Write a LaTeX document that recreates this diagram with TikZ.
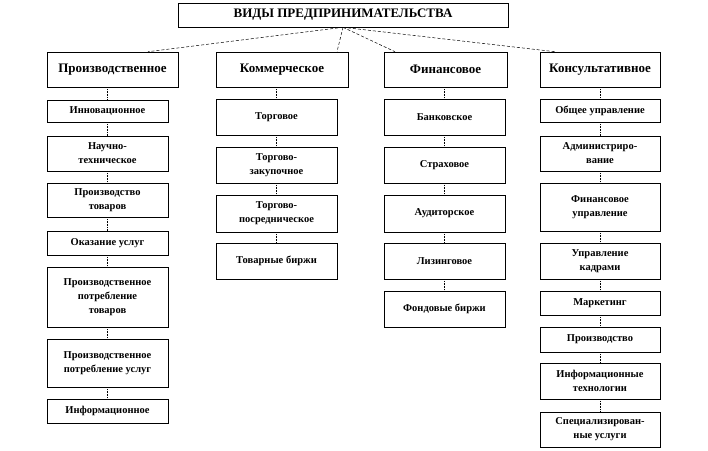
\documentclass[tikz,border=0pt]{standalone}
\usepackage{fontspec}
\setmainfont{Liberation Serif}
\usetikzlibrary{calc}
\tikzset{kind/.style={draw,line width=.6pt,inner sep=1pt,align=center,
           font=\bfseries\fontsize{13}{15}\selectfont},
         head/.style={kind,minimum height=35pt},
         sub/.style={kind,minimum width=121pt,
           font=\bfseries\fontsize{10.5}{14}\selectfont},
         fan/.style={densely dashed,line width=.5pt},
         link/.style={densely dotted,line width=.6pt}}

\begin{document}
\begin{tikzpicture}[x=1pt,y=-1pt]
  \useasboundingbox (0,0) rectangle (708,450);
  \node[kind,minimum width=330pt,minimum height=24pt] (top) at (343,15) {ВИДЫ ПРЕДПРИНИМАТЕЛЬСТВА};
  \node[head,minimum width=131pt] (prod) at (112.5,69.5) {Производственное};
  \node[head,minimum width=132pt] (comm) at (282,69.5) {Коммерческое};
  \node[head,minimum width=123pt] (fin) at (445.5,69.5) {Финансовое};
  \node[head,minimum width=120pt] (cons) at (600,69.5) {Консультативное};
  \draw[fan] (top.south) -- ($(prod.north)+(35.5,0)$);
  \draw[fan] (top.south) -- ($(comm.north)+(55,0)$);
  \draw[fan] (top.south) -- ($(fin.north)+(-50.5,0)$);
  \draw[fan] (top.south) -- ($(cons.north)+(-45,0)$);
  % production
  \node[sub,minimum height=22pt] (p1) at (107.5,111) {Инновационное};
  \node[sub,minimum height=35pt] (p2) at (107.5,153.5) {Научно-\\техническое};
  \node[sub,minimum height=34pt] (p3) at (107.5,200) {Производство\\товаров};
  \node[sub,minimum height=24pt] (p4) at (107.5,243) {Оказание услуг};
  \node[sub,minimum height=60pt] (p5) at (107.5,297) {Производственное\\потребление\\товаров};
  \node[sub,minimum height=48pt] (p6) at (107.5,363) {Производственное\\потребление услуг};
  \node[sub,minimum height=24pt] (p7) at (107.5,411) {Информационное};
  % commerce
  \node[sub,minimum height=36pt] (c1) at (276.5,117) {Торговое};
  \node[sub,minimum height=36pt] (c2) at (276.5,165) {Торгово-\\закупочное};
  \node[sub,minimum height=37pt] (c3) at (276.5,213.5) {Торгово-\\посредническое};
  \node[sub,minimum height=36pt] (c4) at (276.5,261) {Товарные биржи};
  % finance
  \node[sub,minimum height=36pt] (f1) at (444.5,117) {Банковское};
  \node[sub,minimum height=36pt] (f2) at (444.5,165) {Страховое};
  \node[sub,minimum height=37pt] (f3) at (444.5,213.5) {Аудиторское};
  \node[sub,minimum height=36pt] (f4) at (444.5,261) {Лизинговое};
  \node[sub,minimum height=36pt] (f5) at (444.5,309) {Фондовые биржи};
  % consulting
  \node[sub,minimum width=120pt,minimum height=23pt] (k1) at (600,110.5) {Общее управление};
  \node[sub,minimum width=120pt,minimum height=35pt] (k2) at (600,153.5) {Администриро-\\вание};
  \node[sub,minimum width=120pt,minimum height=48pt] (k3) at (600,207) {Финансовое\\управление};
  \node[sub,minimum width=120pt,minimum height=36pt] (k4) at (600,261) {Управление\\кадрами};
  \node[sub,minimum width=120pt,minimum height=24pt] (k5) at (600,303) {Маркетинг};
  \node[sub,minimum width=120pt,minimum height=25pt] (k6) at (600,339.5) {Производство};
  \node[sub,minimum width=120pt,minimum height=36pt] (k7) at (600,381) {Информационные\\технологии};
  \node[sub,minimum width=120pt,minimum height=35pt] (k8) at (600,429.5) {Специализирован-\\ные услуги};
  \foreach \a/\b in {p1/p2,p2/p3,p3/p4,p4/p5,p5/p6,p6/p7,
                     c1/c2,c2/c3,c3/c4,f1/f2,f2/f3,f3/f4,f4/f5,
                     k1/k2,k2/k3,k3/k4,k4/k5,k5/k6,k6/k7,k7/k8}
    \draw[link] (\a) -- (\b);
  \draw[link] (prod.south -| p1.north) -- (p1);
  \draw[link] (comm.south -| c1.north) -- (c1);
  \draw[link] (fin.south -| f1.north) -- (f1);
  \draw[link] (cons) -- (k1);
\end{tikzpicture}
\end{document}
